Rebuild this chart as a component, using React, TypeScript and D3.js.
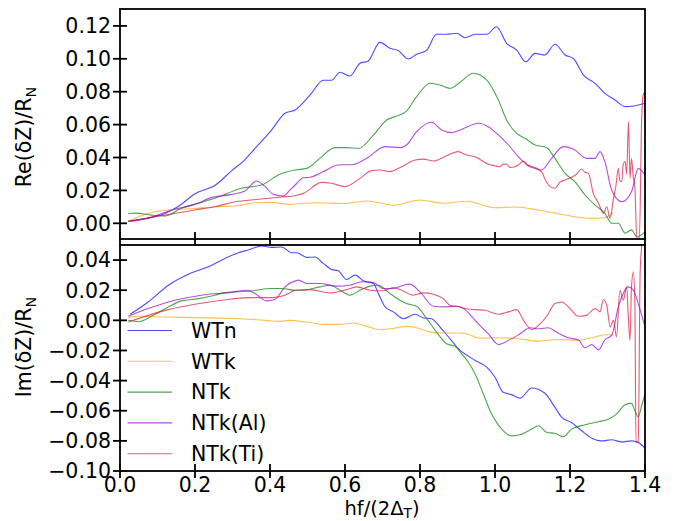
import React from "react";
import * as d3 from "d3";

type P = [number, number];

const xTicks = [0, 0.2, 0.4, 0.6, 0.8, 1.0, 1.2, 1.4];
const reTicks = [0, 0.02, 0.04, 0.06, 0.08, 0.1, 0.12];
const imTicks = [-0.1, -0.08, -0.06, -0.04, -0.02, 0, 0.02, 0.04];
const seriesNames = ["WTn", "WTk", "NTk", "NTk(Al)", "NTk(Ti)"];
const seriesColors = ["#0000ff", "#ffa500", "#008000", "#9400d3", "#dc143c"];

const wtnRe: P[] = [[0.022,0.0014],[0.07,0.003],[0.12,0.006],[0.16,0.011],[0.2,0.018],[0.253,0.023],[0.298,0.032],[0.33,0.038],[0.36,0.0455],[0.404,0.0567],[0.44,0.0669],[0.467,0.0689],[0.507,0.078],[0.542,0.087],[0.564,0.087],[0.587,0.0918],[0.613,0.0895],[0.64,0.0973],[0.662,0.0987],[0.693,0.11],[0.72,0.1064],[0.742,0.105],[0.769,0.0999],[0.791,0.1027],[0.818,0.1053],[0.844,0.1149],[0.871,0.1149],[0.898,0.1155],[0.92,0.1128],[0.947,0.1149],[0.978,0.1149],[1.004,0.1195],[1.031,0.1094],[1.058,0.1053],[1.082,0.0982],[1.107,0.1033],[1.133,0.1023],[1.16,0.1088],[1.187,0.1023],[1.209,0.1002],[1.236,0.0901],[1.267,0.0851],[1.293,0.079],[1.32,0.075],[1.347,0.0709],[1.369,0.0713],[1.4,0.073]];
const wtkRe: P[] = [[0.022,0.0014],[0.05,0.004],[0.075,0.006],[0.129,0.0081],[0.2,0.009],[0.253,0.0101],[0.307,0.0105],[0.36,0.0125],[0.404,0.0127],[0.453,0.0115],[0.524,0.0125],[0.596,0.012],[0.658,0.0136],[0.729,0.011],[0.8,0.0142],[0.862,0.0122],[0.924,0.0134],[1.0,0.0095],[1.053,0.0099],[1.116,0.0081],[1.187,0.005],[1.258,0.003],[1.293,0.0034],[1.316,0.0067]];
const ntkRe: P[] = [[0.022,0.006],[0.044,0.0062],[0.084,0.005],[0.12,0.0044],[0.164,0.0091],[0.2,0.0117],[0.253,0.0152],[0.324,0.0213],[0.378,0.0233],[0.422,0.0294],[0.467,0.0324],[0.498,0.0334],[0.533,0.0395],[0.573,0.046],[0.604,0.046],[0.636,0.0455],[0.676,0.0537],[0.711,0.0628],[0.738,0.0652],[0.764,0.0682],[0.791,0.077],[0.827,0.0851],[0.853,0.0841],[0.88,0.082],[0.907,0.0857],[0.942,0.0912],[0.978,0.0871],[1.009,0.075],[1.031,0.0628],[1.058,0.0547],[1.08,0.0517],[1.107,0.0476],[1.138,0.046],[1.16,0.0395],[1.187,0.0304],[1.213,0.0253],[1.24,0.0172],[1.267,0.0111],[1.293,0.006],[1.311,0.0],[1.329,0.0],[1.347,-0.006],[1.364,-0.004],[1.378,-0.008],[1.391,-0.007],[1.4,-0.005]];
const alRe: P[] = [[0.022,0.0011],[0.075,0.003],[0.138,0.0081],[0.2,0.0115],[0.244,0.0156],[0.298,0.0176],[0.333,0.0196],[0.364,0.0257],[0.387,0.0223],[0.409,0.0176],[0.436,0.0166],[0.453,0.0202],[0.467,0.0233],[0.489,0.0277],[0.507,0.028],[0.542,0.0314],[0.582,0.0354],[0.622,0.0357],[0.658,0.0395],[0.707,0.0466],[0.747,0.046],[0.764,0.0476],[0.791,0.0557],[0.831,0.0614],[0.858,0.0567],[0.884,0.0551],[0.907,0.0567],[0.956,0.0608],[0.982,0.0587],[1.009,0.0537],[1.036,0.0476],[1.062,0.0405],[1.084,0.0359],[1.107,0.0338],[1.124,0.0324],[1.151,0.0395],[1.182,0.0466],[1.213,0.0446],[1.244,0.0395],[1.267,0.0395],[1.28,0.0436],[1.293,0.0375],[1.311,0.0202],[1.338,0.0131],[1.364,0.0192],[1.382,0.0334],[1.4,0.0294]];
const tiRe: P[] = [[0.022,0.0011],[0.093,0.004],[0.2,0.0081],[0.253,0.0101],[0.307,0.0131],[0.369,0.0146],[0.431,0.016],[0.467,0.0168],[0.489,0.0182],[0.538,0.0249],[0.564,0.0243],[0.6,0.0223],[0.64,0.0273],[0.671,0.032],[0.693,0.0324],[0.72,0.0314],[0.751,0.0344],[0.787,0.0385],[0.809,0.039],[0.836,0.0379],[0.871,0.0411],[0.902,0.0436],[0.924,0.0415],[0.947,0.0405],[0.982,0.0359],[1.0,0.035],[1.013,0.0344],[1.022,0.036],[1.031,0.0359],[1.04,0.034],[1.053,0.0344],[1.065,0.036],[1.076,0.0379],[1.087,0.035],[1.098,0.034],[1.11,0.033],[1.124,0.0314],[1.135,0.026],[1.147,0.0223],[1.16,0.0213],[1.173,0.025],[1.187,0.0263],[1.204,0.028],[1.218,0.03],[1.231,0.033],[1.24,0.031],[1.249,0.0304],[1.262,0.0182],[1.276,0.0122],[1.282,0.009],[1.289,0.006],[1.298,0.0101],[1.307,0.003],[1.316,0.0152],[1.322,0.022],[1.329,0.0334],[1.333,0.026],[1.338,0.0253],[1.342,0.036],[1.347,0.0375],[1.351,0.03],[1.356,0.0618],[1.36,0.0273],[1.364,0.0395],[1.369,0.0273],[1.373,0.0223],[1.378,-0.009],[1.385,-0.009],[1.391,0.0618],[1.395,0.078],[1.4,0.08]];

const wtnIm: P[] = [[0.027,0.004],[0.075,0.0122],[0.129,0.0233],[0.191,0.0316],[0.236,0.0356],[0.28,0.0411],[0.316,0.0449],[0.342,0.0467],[0.378,0.0493],[0.404,0.0484],[0.431,0.0487],[0.458,0.0449],[0.471,0.0449],[0.498,0.0418],[0.52,0.042],[0.542,0.0378],[0.564,0.0338],[0.582,0.0329],[0.604,0.0271],[0.627,0.03],[0.649,0.0262],[0.676,0.0244],[0.689,0.0178],[0.707,0.0089],[0.729,0.0056],[0.756,0.0011],[0.787,0.004],[0.809,0.0016],[0.831,0.0011],[0.853,-0.0044],[0.88,-0.0122],[0.907,-0.02],[0.933,-0.0244],[0.947,-0.0267],[0.978,-0.0311],[1.0,-0.0378],[1.022,-0.0478],[1.044,-0.0493],[1.067,-0.0516],[1.098,-0.0449],[1.133,-0.0484],[1.16,-0.0578],[1.178,-0.0644],[1.204,-0.0678],[1.231,-0.0733],[1.258,-0.0782],[1.284,-0.08],[1.311,-0.0793],[1.338,-0.0807],[1.364,-0.08],[1.382,-0.081],[1.4,-0.0849]];
const wtkIm: P[] = [[0.022,0.0018],[0.04,0.0027],[0.12,0.0022],[0.209,0.0018],[0.324,0.0011],[0.387,0.0],[0.422,-0.0007],[0.453,0.0],[0.498,-0.0011],[0.542,-0.0027],[0.587,-0.0027],[0.622,-0.0018],[0.658,-0.004],[0.693,-0.0062],[0.72,-0.0056],[0.764,-0.004],[0.791,-0.0049],[0.827,-0.0078],[0.862,-0.0084],[0.907,-0.0084],[0.933,-0.0096],[0.956,-0.0118],[1.009,-0.0116],[1.062,-0.0122],[1.116,-0.0138],[1.169,-0.0127],[1.222,-0.0133],[1.258,-0.0116],[1.293,-0.0096],[1.316,-0.0096]];
const ntkIm: P[] = [[0.022,0.0],[0.049,-0.0009],[0.084,0.0027],[0.129,0.0089],[0.164,0.0129],[0.209,0.0144],[0.253,0.0167],[0.28,0.0184],[0.342,0.0193],[0.404,0.0211],[0.431,0.0211],[0.467,0.02],[0.489,0.02],[0.533,0.0222],[0.56,0.0233],[0.587,0.02],[0.613,0.0167],[0.64,0.02],[0.667,0.0227],[0.689,0.0233],[0.72,0.0178],[0.747,0.0133],[0.764,0.0111],[0.791,0.0093],[0.818,0.0011],[0.844,-0.0078],[0.871,-0.0156],[0.893,-0.0173],[0.911,-0.0222],[0.933,-0.0293],[0.947,-0.0356],[0.969,-0.0489],[0.991,-0.0622],[1.018,-0.0722],[1.044,-0.0767],[1.071,-0.0756],[1.098,-0.0722],[1.116,-0.07],[1.138,-0.0744],[1.16,-0.075],[1.182,-0.0773],[1.204,-0.0722],[1.24,-0.0693],[1.276,-0.0673],[1.302,-0.0656],[1.324,-0.0622],[1.347,-0.056],[1.364,-0.0551],[1.373,-0.06],[1.382,-0.064],[1.391,-0.0567],[1.4,-0.0489]];
const alIm: P[] = [[0.022,0.0027],[0.075,0.0078],[0.129,0.0122],[0.182,0.0151],[0.236,0.0173],[0.289,0.0182],[0.338,0.02],[0.36,0.0178],[0.391,0.0129],[0.413,0.0138],[0.44,0.0222],[0.467,0.0262],[0.476,0.0267],[0.498,0.0244],[0.533,0.0244],[0.578,0.0227],[0.613,0.0233],[0.644,0.0256],[0.676,0.025],[0.702,0.0211],[0.729,0.0211],[0.756,0.0233],[0.773,0.024],[0.8,0.0189],[0.836,0.0093],[0.862,0.0089],[0.898,0.0093],[0.92,0.0071],[0.933,0.004],[0.947,0.0],[0.982,-0.0089],[1.009,-0.016],[1.036,-0.0133],[1.067,-0.0089],[1.093,-0.0049],[1.116,-0.0056],[1.142,-0.0049],[1.164,-0.0078],[1.196,-0.0116],[1.222,-0.0129],[1.24,-0.0182],[1.258,-0.016],[1.276,-0.0196],[1.293,-0.0129],[1.311,-0.01],[1.329,0.0089],[1.356,0.0222],[1.369,0.02],[1.382,0.0111],[1.4,-0.0044]];
const tiIm: P[] = [[0.022,-0.0011],[0.075,0.0033],[0.129,0.0071],[0.2,0.0107],[0.271,0.0133],[0.342,0.0151],[0.404,0.0151],[0.453,0.0182],[0.467,0.02],[0.507,0.0204],[0.56,0.0182],[0.604,0.0204],[0.631,0.0222],[0.667,0.02],[0.702,0.0196],[0.729,0.0218],[0.751,0.02],[0.782,0.0167],[0.809,0.0182],[0.836,0.0173],[0.862,0.0144],[0.88,0.01],[0.907,0.0089],[0.92,0.0078],[0.947,0.0071],[0.973,0.0067],[1.009,0.004],[1.036,0.0056],[1.058,0.0071],[1.076,0.0],[1.098,-0.0062],[1.116,-0.0033],[1.138,0.0027],[1.16,0.0111],[1.178,0.0122],[1.2,0.0078],[1.222,0.0027],[1.244,0.0033],[1.267,0.0078],[1.28,0.0056],[1.289,0.0138],[1.298,0.01],[1.307,-0.0044],[1.316,0.0],[1.324,-0.0111],[1.333,0.02],[1.342,0.0133],[1.351,0.0222],[1.356,0.0],[1.36,-0.0133],[1.364,0.0222],[1.369,0.0322],[1.373,0.0111],[1.376,-0.0811],[1.382,-0.08],[1.387,0.0311],[1.391,0.0489],[1.395,0.06],[1.4,0.04]];

const reSeries = [wtnRe, wtkRe, ntkRe, alRe, tiRe];
const imSeries = [wtnIm, wtkIm, ntkIm, alIm, tiIm];

const W = 678, H = 521;
const L = 120, R = 645;
const topT = 9, topB = 239;
const botT = 245, botB = 471;
const FONT = "DejaVu Sans, sans-serif";
const FS = 20.5;
const FSX = 19.5;

const fmt = (v: number) => {
  const s = Math.abs(v).toFixed(2);
  return (v < -1e-9 ? "\u2212" : "") + s;
};

export default function App() {
  const x = d3.scaleLinear().domain([0, 1.4]).range([L, R]);
  const yRe = d3.scaleLinear().domain([-0.00954, 0.13027]).range([topB, topT]);
  const yIm = d3.scaleLinear().domain([-0.1, 0.05]).range([botB, botT]);

  const mkLine = (y: d3.ScaleLinear<number, number>) =>
    d3.line<P>().x((d) => x(d[0])).y((d) => y(d[1])).curve(d3.curveMonotoneX);

  const lineRe = mkLine(yRe);
  const lineIm = mkLine(yIm);
  const tk = 7;

  return (
    <svg width={W} height={H} style={{ position: "absolute", left: 0, top: 0, background: "#fff" }} fontFamily={FONT}>
      <defs>
        <clipPath id="clipTop"><rect x={L} y={topT} width={R - L} height={topB - topT} /></clipPath>
        <clipPath id="clipBot"><rect x={L} y={botT} width={R - L} height={botB - botT} /></clipPath>
      </defs>

      <g clipPath="url(#clipTop)">
        {reSeries.map((s, i) => (
          <path key={i} d={lineRe(s) || ""} fill="none" stroke={seriesColors[i]} strokeOpacity={0.7} strokeWidth={1.1} />
        ))}
      </g>
      <g clipPath="url(#clipBot)">
        {imSeries.map((s, i) => (
          <path key={i} d={lineIm(s) || ""} fill="none" stroke={seriesColors[i]} strokeOpacity={0.7} strokeWidth={1.1} />
        ))}
      </g>

      <rect x={L} y={topT} width={R - L} height={topB - topT} fill="none" stroke="#000" strokeWidth={1.8} />
      <rect x={L} y={botT} width={R - L} height={botB - botT} fill="none" stroke="#000" strokeWidth={1.8} />

      {xTicks.map((t) => (
        <g key={"xt" + t}>
          <line x1={x(t)} x2={x(t)} y1={topB - tk} y2={topB + tk} stroke="#000" strokeWidth={1.8} />
          <line x1={x(t)} x2={x(t)} y1={botB - tk} y2={botB + tk} stroke="#000" strokeWidth={1.8} />
          <text x={x(t)} y={491.5} textAnchor="middle" fontSize={FS} fill="#000">{t.toFixed(1)}</text>
        </g>
      ))}

      {reTicks.map((t) => (
        <g key={"rt" + t}>
          <line x1={L - tk} x2={L + tk} y1={yRe(t)} y2={yRe(t)} stroke="#000" strokeWidth={1.8} />
          <text x={111} y={yRe(t)} dy="0.36em" textAnchor="end" fontSize={FS} fill="#000">{fmt(t)}</text>
        </g>
      ))}
      {imTicks.map((t) => (
        <g key={"it" + t}>
          <line x1={L - tk} x2={L + tk} y1={yIm(t)} y2={yIm(t)} stroke="#000" strokeWidth={1.8} />
          <text x={111} y={yIm(t)} dy="0.36em" textAnchor="end" fontSize={FS} fill="#000">{fmt(t)}</text>
        </g>
      ))}

      <text transform="translate(31,137) rotate(-90)" textAnchor="middle" fontSize={FS} fill="#000">
        Re(δZ)/R<tspan fontSize={FS * 0.7} dy="5">N</tspan>
      </text>
      <text transform="translate(31,347) rotate(-90)" textAnchor="middle" fontSize={FS} fill="#000">
        Im(δZ)/R<tspan fontSize={FS * 0.7} dy="5">N</tspan>
      </text>

      <text x={382} y={515} textAnchor="middle" fontSize={FSX} fill="#000">
        hf/(2Δ<tspan fontSize={FSX * 0.7} dy="3">T</tspan><tspan dy="-3">)</tspan>
      </text>

      {seriesNames.map((n, i) => {
        const yy = 330.5 + i * 30.8;
        return (
          <g key={n}>
            <line x1={127.5} x2={172} y1={yy} y2={yy} stroke={seriesColors[i]} strokeOpacity={0.7} strokeWidth={1.1} />
            <text x={191} y={yy} dy="0.36em" fontSize={FS} fill="#000">{n}</text>
          </g>
        );
      })}
    </svg>
  );
}
